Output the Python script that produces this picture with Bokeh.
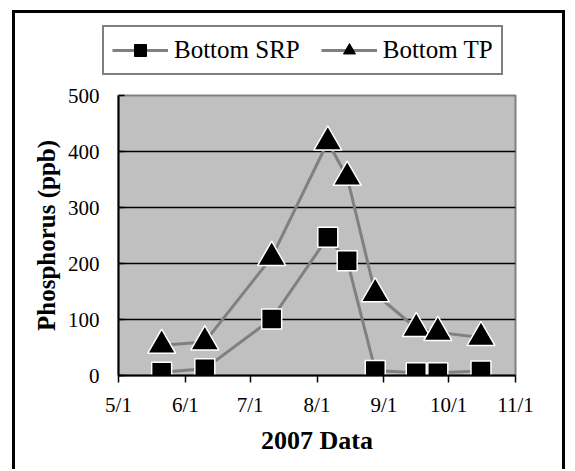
import pandas as pd
from bokeh.plotting import figure
from bokeh.layouts import column
from bokeh.models import Range1d, FixedTicker, Legend, LegendItem
from bokeh.embed import file_html
from bokeh.resources import INLINE

# ---- data ----
sample_dates = ["2007-05-21", "2007-06-10", "2007-07-11", "2007-08-06", "2007-08-15",
                "2007-08-28", "2007-09-16", "2007-09-26", "2007-10-16"]
bottom_srp = [6, 12, 101, 247, 205, 9, 5, 5, 8]
bottom_tp = [54, 60, 211, 417, 354, 146, 84, 77, 68]

tick_dates = ["2007-05-01", "2007-06-01", "2007-07-01", "2007-08-01",
              "2007-09-01", "2007-10-01", "2007-11-01"]
tick_labels = ["5/1", "6/1", "7/1", "8/1", "9/1", "10/1", "11/1"]
y_ticks = [0, 100, 200, 300, 400, 500]
series_names = ["Bottom SRP", "Bottom TP"]

origin = pd.Timestamp(tick_dates[0])
x_days = [int((pd.Timestamp(d) - origin).days) for d in sample_dates]
x_tick_days = [int((pd.Timestamp(d) - origin).days) for d in tick_dates]

FONT = "Liberation Serif"
GRAY = "#808080"

W = 547
LH = 70          # legend strip height
H = 386          # main figure height
FL, FT, FW, FH = 103, 12, 397, 280

# ---------- legend strip ----------
lg = figure(width=W, height=LH, x_range=Range1d(0, 1), y_range=Range1d(0, 1),
            x_axis_type=None, y_axis_type=None,
            output_backend="svg", toolbar_location=None, min_border=0)
lg.frame_align = False
lg.outline_line_color = None
lg.xgrid.visible = False
lg.ygrid.visible = False
lg.background_fill_color = "white"
lg.border_fill_color = "white"

off_x = [-10, -9]
off_y = [-10, -10]
l1 = lg.line(off_x, off_y, line_color=GRAY, line_width=3)
m1 = lg.scatter(off_x, off_y, marker="square", size=11, fill_color="black", line_color="black")
l2 = lg.line(off_x, off_y, line_color=GRAY, line_width=3)
m2 = lg.scatter(off_x, off_y, marker="triangle", size=14, fill_color="black", line_color="black")

legend = Legend(items=[LegendItem(label=series_names[0], renderers=[l1, m1]),
                       LegendItem(label=series_names[1], renderers=[l2, m2])],
                orientation="horizontal", location=(87, 8),
                padding=8, spacing=21, margin=0,
                glyph_width=56, glyph_height=30, label_standoff=6,
                label_text_font=FONT, label_text_font_size="25px",
                label_text_color="black",
                border_line_color="black", border_line_width=2,
                background_fill_color="white", background_fill_alpha=1.0)
lg.add_layout(legend, "center")

# ---------- main chart ----------
p = figure(width=W, height=H,
           x_range=Range1d(x_tick_days[0], x_tick_days[-1]),
           y_range=Range1d(y_ticks[0], y_ticks[-1]),
           output_backend="svg", toolbar_location=None,
           min_border_left=FL, min_border_right=W - FL - FW,
           min_border_top=FT, min_border_bottom=H - FT - FH)
p.frame_align = False

p.background_fill_color = "#C0C0C0"
p.border_fill_color = "white"
p.outline_line_color = GRAY
p.outline_line_width = 2

p.xgrid.visible = False
p.ygrid.ticker = FixedTicker(ticks=y_ticks)
p.ygrid.grid_line_color = "black"
p.ygrid.grid_line_width = 1.5

xa = p.xaxis[0]
xa.ticker = FixedTicker(ticks=x_tick_days)
xa.major_label_overrides = {d: l for d, l in zip(x_tick_days, tick_labels)}
xa.minor_tick_line_color = None
xa.major_tick_out = 7
xa.major_tick_in = 0
xa.major_tick_line_color = "black"
xa.major_tick_line_width = 1.5
xa.axis_line_color = "black"
xa.axis_line_width = 2
xa.major_label_text_font = FONT
xa.major_label_text_font_size = "21px"
xa.major_label_text_color = "black"
xa.major_label_standoff = 10
xa.axis_label = "2007 Data"
xa.axis_label_text_font = FONT
xa.axis_label_text_font_style = "bold"
xa.axis_label_text_font_size = "26px"
xa.axis_label_text_color = "black"
xa.axis_label_standoff = 6

ya = p.yaxis[0]
ya.ticker = FixedTicker(ticks=y_ticks)
ya.minor_tick_line_color = None
ya.major_tick_out = 0
ya.major_tick_in = 6
ya.major_tick_line_color = "black"
ya.major_tick_line_width = 1.5
ya.axis_line_color = "black"
ya.axis_line_width = 2
ya.major_label_text_font = FONT
ya.major_label_text_font_size = "21px"
ya.major_label_text_color = "black"
ya.major_label_standoff = 19
ya.axis_label = "Phosphorus (ppb)"
ya.axis_label_text_font = FONT
ya.axis_label_text_font_style = "bold"
ya.axis_label_text_font_size = "25px"
ya.axis_label_text_color = "black"
ya.axis_label_standoff = 5

p.line(x_days, bottom_srp, line_color=GRAY, line_width=3)
p.line(x_days, bottom_tp, line_color=GRAY, line_width=3)
p.scatter(x_days, bottom_srp, marker="square", size=20,
          fill_color="black", line_color="white", line_width=1.5)
p.scatter(x_days, bottom_tp, marker="triangle", size=28,
          fill_color="black", line_color="white", line_width=1.5)

layout = column(lg, p, spacing=0,
                styles={"margin-left": "12px", "margin-top": "10px",
                        "border-left": "3px solid black",
                        "border-top": "3px solid black",
                        "border-right": "3px solid black"})

open("out.html", "w").write(file_html(layout, INLINE))
